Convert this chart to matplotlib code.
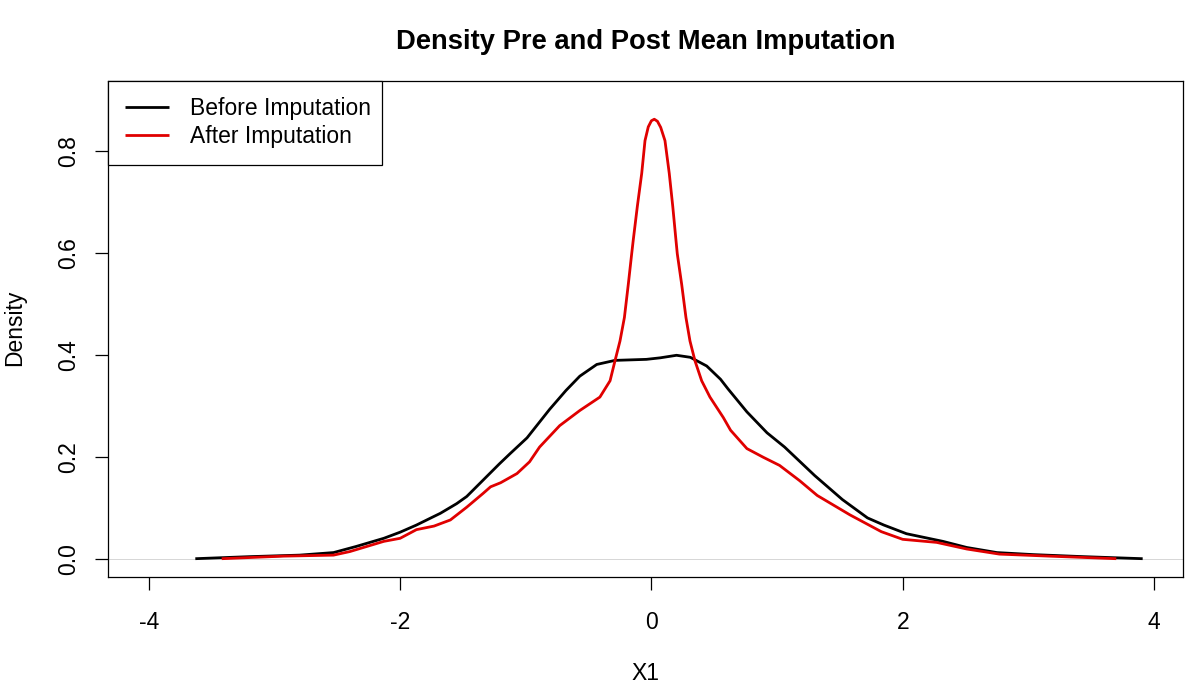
import matplotlib
matplotlib.use("Agg")
import matplotlib.pyplot as plt

# ---- data ----
before_x = [-3.63, -3.20, -2.80, -2.53, -2.35, -2.13, -2.00, -1.87, -1.73, -1.68,
            -1.55, -1.47, -1.34, -1.21, -1.125, -0.99, -0.81, -0.68, -0.57, -0.435,
            -0.29, -0.04, 0.07, 0.20, 0.31, 0.44, 0.55, 0.61, 0.76, 0.92,
            1.06, 1.30, 1.52, 1.72, 1.85, 2.03, 2.32, 2.51, 2.75, 3.04,
            3.44, 3.91]
before_y = [0.000, 0.004, 0.007, 0.012, 0.024, 0.040, 0.052, 0.066, 0.083, 0.089,
            0.108, 0.122, 0.154, 0.186, 0.206, 0.237, 0.293, 0.330, 0.358, 0.381,
            0.389, 0.391, 0.394, 0.399, 0.395, 0.378, 0.352, 0.333, 0.288, 0.247,
            0.219, 0.163, 0.116, 0.080, 0.066, 0.049, 0.034, 0.022, 0.012, 0.008,
            0.004, 0.000]

after_x = [-3.42, -2.93, -2.53, -2.40, -2.13, -2.00, -1.87, -1.73, -1.60, -1.47,
           -1.34, -1.28, -1.20, -1.07, -0.97, -0.89, -0.81, -0.73, -0.568, -0.41,
           -0.329, -0.290, -0.250, -0.215, -0.184, -0.157, -0.144, -0.112, -0.077, -0.051,
           -0.025, 0.000, 0.023, 0.048, 0.074, 0.108, 0.142, 0.170, 0.195, 0.206,
           0.241, 0.275, 0.307, 0.347, 0.400, 0.466, 0.572, 0.63, 0.76, 0.89,
           1.02, 1.18, 1.32, 1.58, 1.83, 2.00, 2.27, 2.51, 2.77, 3.17, 3.70]
after_y = [0.000, 0.005, 0.007, 0.014, 0.034, 0.040, 0.057, 0.064, 0.076, 0.101,
           0.128, 0.141, 0.149, 0.167, 0.190, 0.219, 0.240, 0.261, 0.291, 0.317,
           0.349, 0.388, 0.427, 0.473, 0.538, 0.598, 0.626, 0.691, 0.756, 0.820,
           0.847, 0.859, 0.862, 0.858, 0.846, 0.820, 0.756, 0.691, 0.626, 0.598,
           0.538, 0.473, 0.427, 0.388, 0.349, 0.317, 0.277, 0.252, 0.216, 0.199,
           0.183, 0.153, 0.124, 0.086, 0.053, 0.038, 0.032, 0.019, 0.009, 0.005, 0.000]

x_ticks = [-4, -2, 0, 2, 4]
y_ticks = [0.0, 0.2, 0.4, 0.6, 0.8]
y_tick_labels = ["0.0", "0.2", "0.4", "0.6", "0.8"]
series_labels = ["Before Imputation", "After Imputation"]
title = "Density Pre and Post Mean Imputation"

plt.rcParams['font.family'] = ['Liberation Sans', 'DejaVu Sans']

W, H = 1200, 686
fig = plt.figure(figsize=(W / 100, H / 100), dpi=100)
L, R, T, B = 108, 1183, 81, 577
ax = fig.add_axes([L / W, 1 - B / H, (R - L) / W, (B - T) / H])

ax.axhline(0, color='#d0d0d0', lw=0.6, zorder=1)
ax.plot(before_x, before_y, color='black', lw=2.0, zorder=2, label=series_labels[0],
        solid_capstyle='butt', solid_joinstyle='round')
ax.plot(after_x, after_y, color='#e00000', lw=2.0, zorder=3, label=series_labels[1],
        solid_capstyle='butt', solid_joinstyle='round')

ax.set_xlim(-4.325, 4.231)
ax.set_ylim(-0.0359, 0.937)

ax.set_xticks(x_ticks)
ax.set_xticklabels([str(v) for v in x_ticks])
ax.set_yticks(y_ticks)
ax.set_yticklabels(y_tick_labels, rotation=90, va='center')

for s in ax.spines.values():
    s.set_linewidth(0.9)
    s.set_color('black')

ax.tick_params(axis='both', direction='out', length=9.5, width=0.9, labelsize=16.5, colors='black')
ax.tick_params(axis='x', pad=15)
ax.tick_params(axis='y', pad=10.5)

ax.set_xlabel("X1", fontsize=16.5)
ax.xaxis.set_label_coords(0.5, (B - 674) / (B - T))
ax.xaxis.label.set_va('center')
ax.set_ylabel("Density", fontsize=16.5)
ax.yaxis.set_label_coords((15 - L) / (R - L), (B - 328) / (B - T))
ax.yaxis.label.set_va('center')

ax.set_title(title, fontsize=19.7, fontweight='bold', y=(B - 42) / (B - T), va='center', pad=0)

leg = ax.legend(loc='upper left', bbox_to_anchor=(0, 0, 274 / (R - L), 1), mode='expand',
                borderaxespad=0, fancybox=False, framealpha=1, edgecolor='black',
                fontsize=16.5, handlelength=1.95, handletextpad=0.9, borderpad=0.72,
                labelspacing=0.2)
leg.get_frame().set_linewidth(0.9)

fig.savefig("out.png", dpi=100)
